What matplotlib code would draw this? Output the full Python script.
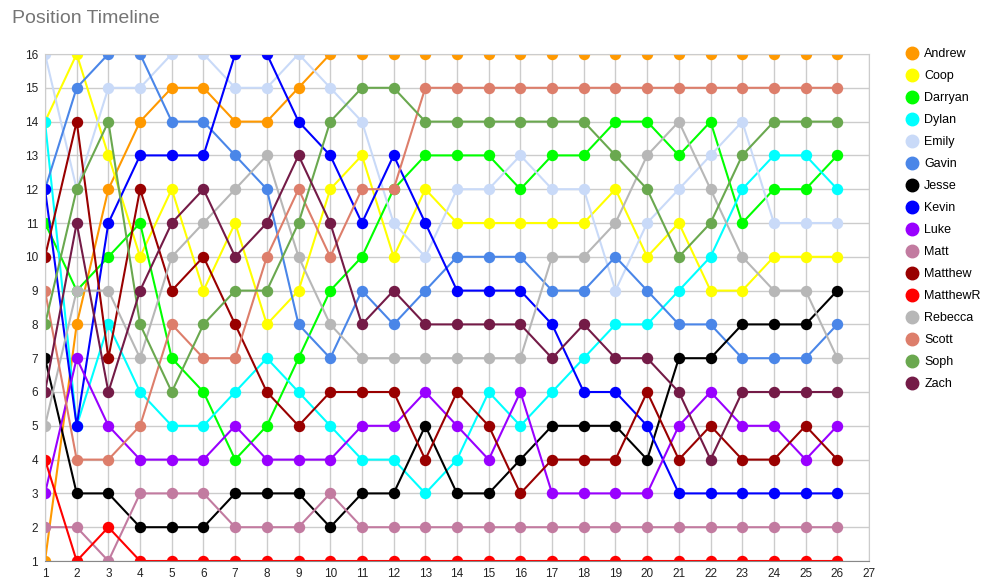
import matplotlib
matplotlib.use("Agg")
import matplotlib.pyplot as plt
from matplotlib.lines import Line2D

plt.rcParams['font.family'] = ['Liberation Sans', 'DejaVu Sans']

rounds = list(range(1, 27))

andrew = [1, 8, 12, 14, 15, 15, 14, 14, 15] + [16] * 17
coop = [14, 16, 13, 10, 12, 9, 11, 8, 9, 12, 13, 10, 12, 11, 11, 11, 11, 11, 12, 10, 11, 9, 9, 10, 10, 10]
darryan = [11, 9, 10, 11, 7, 6, 4, 5, 7, 9, 10, 12, 13, 13, 13, 12, 13, 13, 14, 14, 13, 14, 11, 12, 12, 13]
dylan = [14, 5, 8, 6, 5, 5, 6, 7, 6, 5, 4, 4, 3, 4, 6, 5, 6, 7, 8, 8, 9, 10, 12, 13, 13, 12]
emily = [16, 12, 15, 15, 16, 16, 15, 15, 16, 15, 14, 11, 10, 12, 12, 13, 12, 12, 9, 11, 12, 13, 14, 11, 11, 11]
gavin = [12, 15, 16, 16, 14, 14, 13, 12, 8, 7, 9, 8, 9, 10, 10, 10, 9, 9, 10, 9, 8, 8, 7, 7, 7, 8]
jesse = [7, 3, 3, 2, 2, 2, 3, 3, 3, 2, 3, 3, 5, 3, 3, 4, 5, 5, 5, 4, 7, 7, 8, 8, 8, 9]
kevin = [12, 5, 11, 13, 13, 13, 16, 16, 14, 13, 11, 13, 11, 9, 9, 9, 8, 6, 6, 5, 3, 3, 3, 3, 3, 3]
luke = [3, 7, 5, 4, 4, 4, 5, 4, 4, 4, 5, 5, 6, 5, 4, 6, 3, 3, 3, 3, 5, 6, 5, 5, 4, 5]
matt = [2, 2, 1, 3, 3, 3, 2, 2, 2, 3] + [2] * 16
matthew = [10, 14, 7, 12, 9, 10, 8, 6, 5, 6, 6, 6, 4, 6, 5, 3, 4, 4, 4, 6, 4, 5, 4, 4, 5, 4]
matthewr = [4, 1, 2] + [1] * 23
rebecca = [5, 9, 9, 7, 10, 11, 12, 13, 10, 8, 7, 7, 7, 7, 7, 7, 10, 10, 11, 13, 14, 12, 10, 9, 9, 7]
scott = [9, 4, 4, 5, 8, 7, 7, 10, 12, 10, 12, 12] + [15] * 14
soph = [8, 12, 14, 8, 6, 8, 9, 9, 11, 14, 15, 15, 14, 14, 14, 14, 14, 14, 13, 12, 10, 11, 13, 14, 14, 14]
zach = [6, 11, 6, 9, 11, 12, 10, 11, 13, 11, 8, 9, 8, 8, 8, 8, 7, 8, 7, 7, 6, 4, 6, 6, 6, 6]

names = ['Andrew', 'Coop', 'Darryan', 'Dylan', 'Emily', 'Gavin', 'Jesse', 'Kevin',
         'Luke', 'Matt', 'Matthew', 'MatthewR', 'Rebecca', 'Scott', 'Soph', 'Zach']
series = [andrew, coop, darryan, dylan, emily, gavin, jesse, kevin,
          luke, matt, matthew, matthewr, rebecca, scott, soph, zach]
colors = ['#ff9900', '#ffff00', '#00ff00', '#00ffff', '#c9daf8', '#4a86e8', '#000000', '#0000ff',
          '#9900ff', '#c27ba0', '#990000', '#ff0000', '#b7b7b7', '#dd7e6b', '#6aa84f', '#741b47']

fig = plt.figure(figsize=(9.82, 5.85), dpi=100, facecolor='white')
ax = fig.add_axes([45 / 982, 1 - 561 / 585, (869 - 45) / 982, (561 - 54) / 585])

for name, vals, c in zip(names, series, colors):
    ax.plot(rounds, vals, color=c, lw=1.5, marker='o', ms=7.2, label=name)

ax.set_xlim(1, 27)
ax.set_ylim(1, 16)
ax.set_xticks(range(1, 28))
ax.set_yticks(range(1, 17))
ax.grid(True, color='#cccccc', lw=1)
ax.set_axisbelow(True)
ax.tick_params(length=0, labelsize=8.5, colors='#222222', pad=5)
for s in ax.spines.values():
    s.set_color('#cccccc')
ax.spines['bottom'].set_color('#888888')

fig.text(12 / 982, 1 - 10 / 585, 'Position Timeline', fontsize=14, color='#757575', va='top')

handles = [Line2D([], [], ls='none', marker='o', ms=9, color=c) for c in colors]
fig.legend(handles, names, loc='upper left', bbox_to_anchor=(893 / 982, 1 - 37 / 585),
           frameon=False, fontsize=9, labelspacing=0.8, handletextpad=0.4, handlelength=1.2)

fig.savefig('out.png', dpi=100)
